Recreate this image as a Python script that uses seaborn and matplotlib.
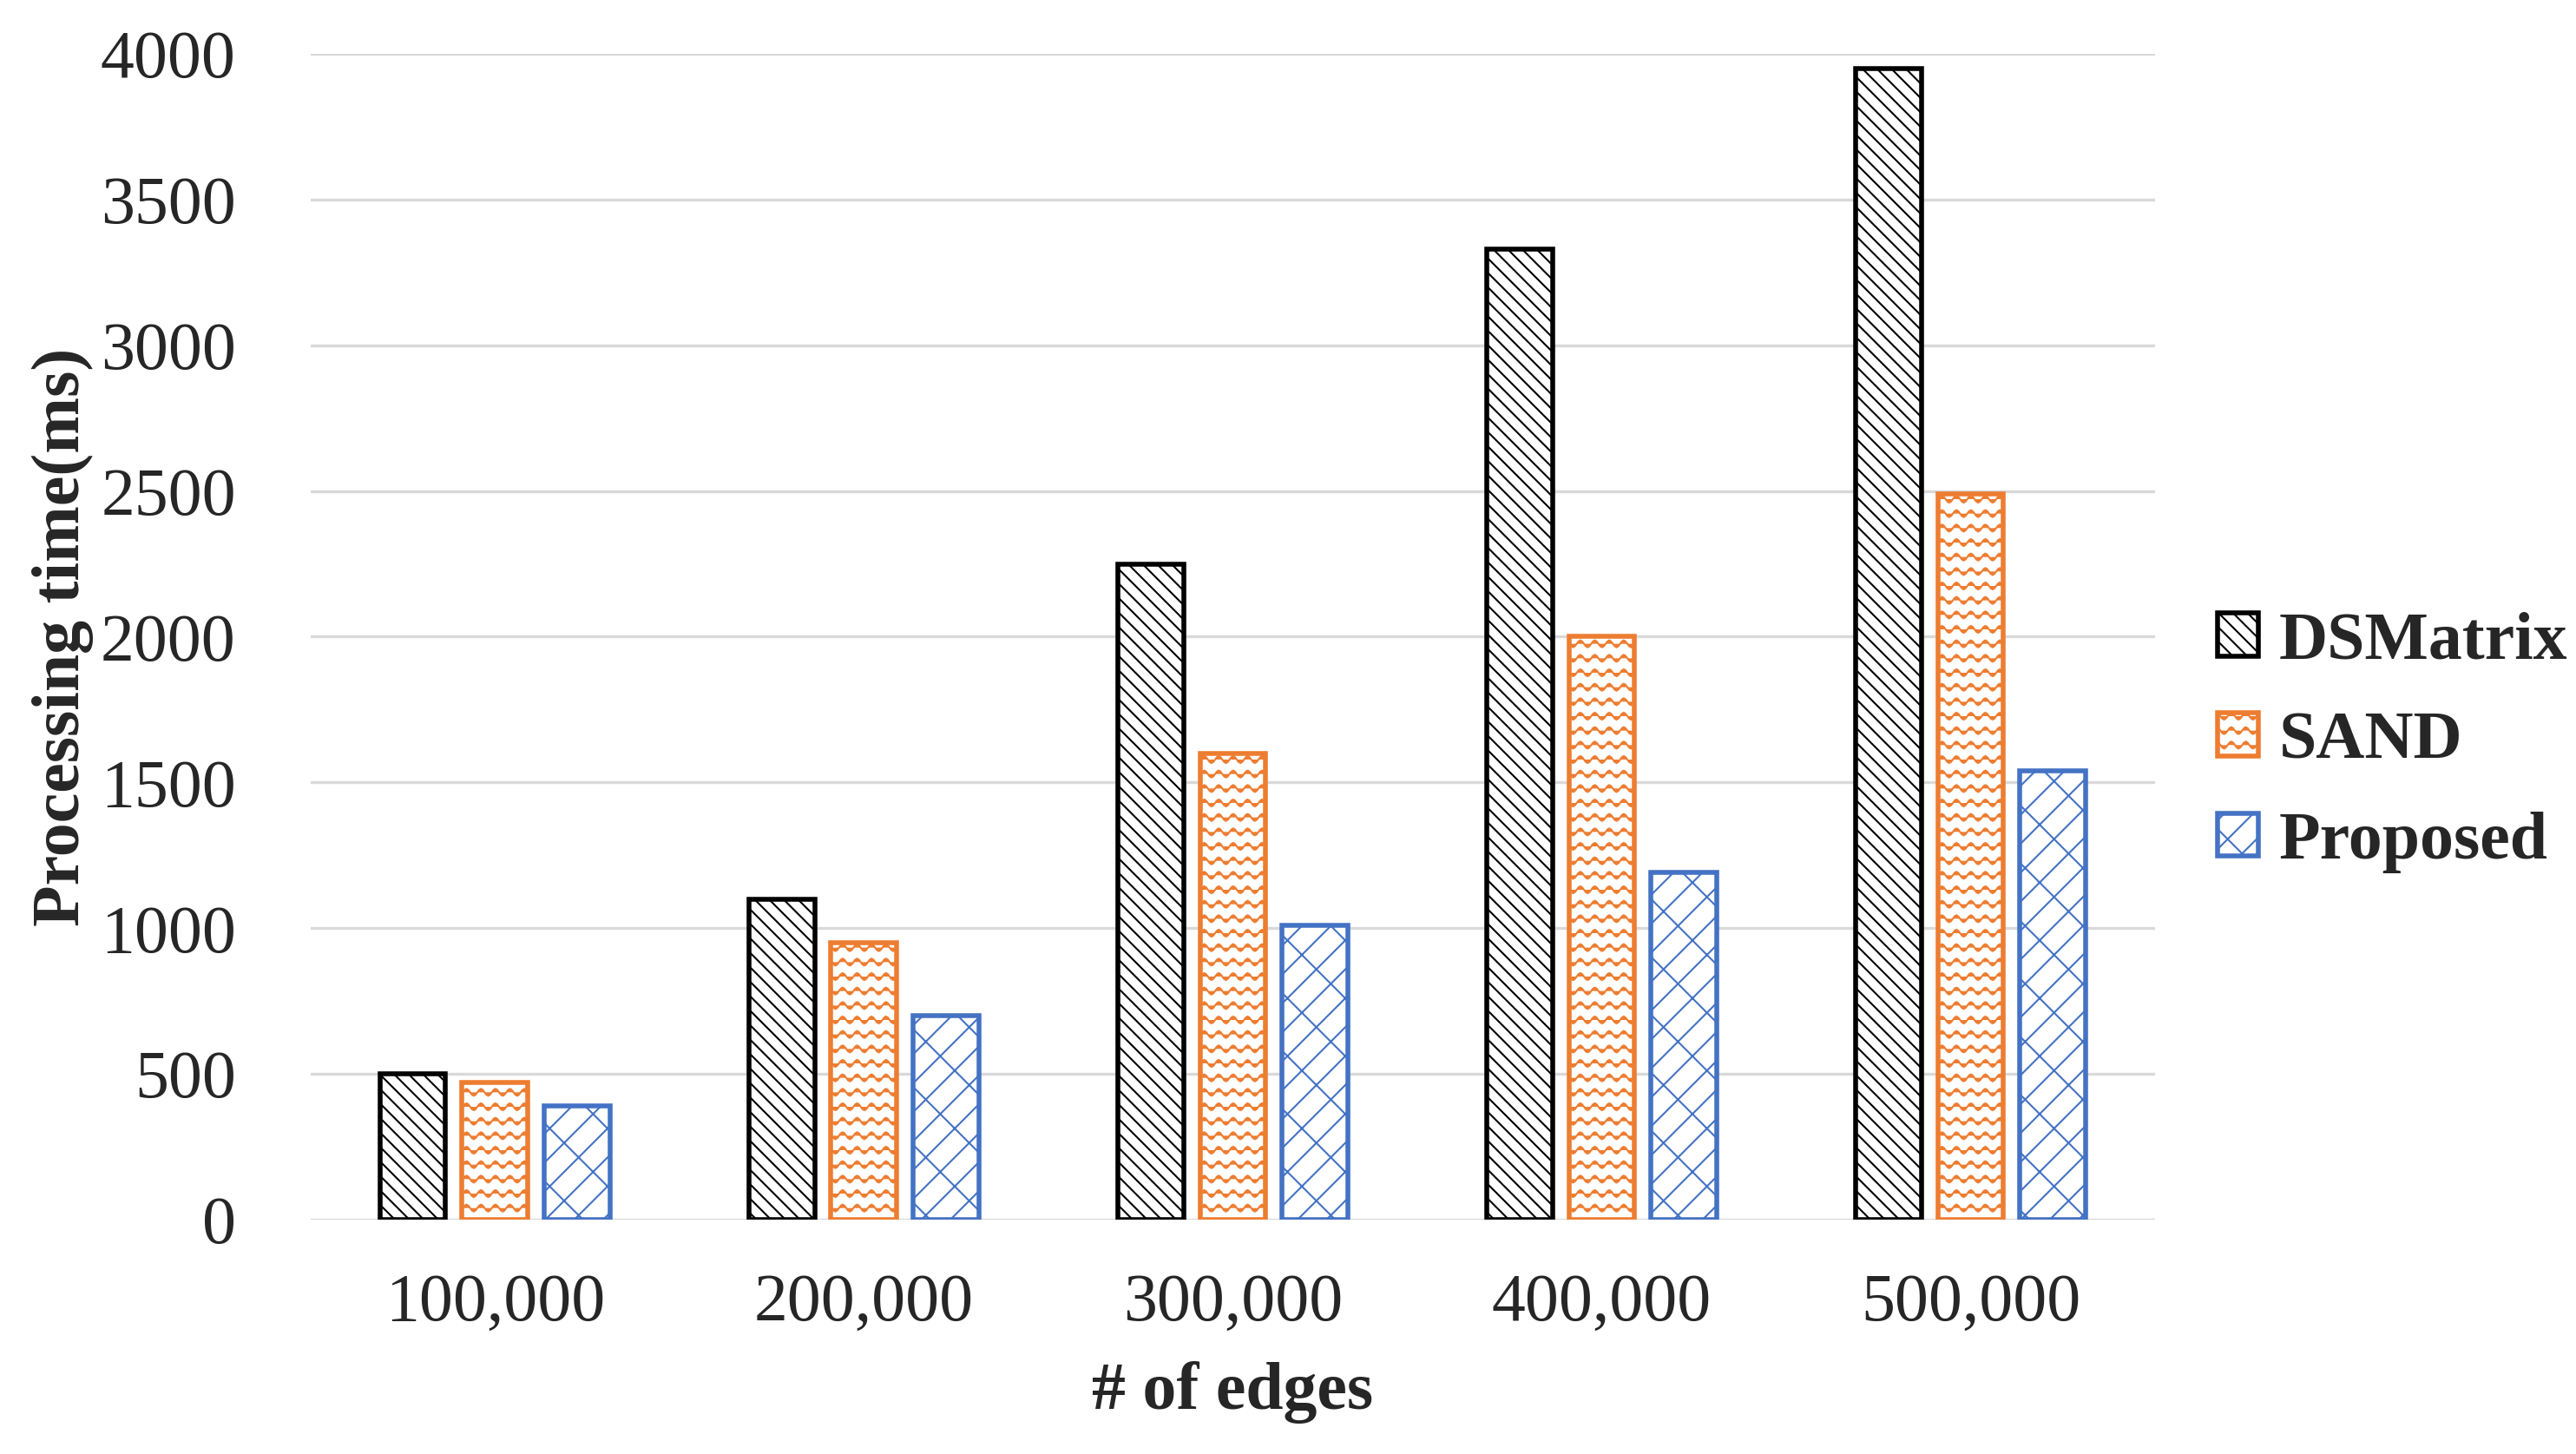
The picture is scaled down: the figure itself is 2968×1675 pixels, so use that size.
import warnings
import numpy as np
import pandas as pd
import matplotlib
matplotlib.use("Agg")
import matplotlib.pyplot as plt
import matplotlib.patches as mpatches
from matplotlib import hatch as mhatch
from matplotlib.path import Path
import seaborn as sns

warnings.filterwarnings("ignore")

# ------------------------------------------ données ------------------------------------------
edges = ["100,000", "200,000", "300,000", "400,000", "500,000"]
methods = ["DSMatrix", "SAND", "Proposed"]
dsmatrix = [500, 1100, 2250, 3330, 3950]
sand = [470, 950, 1600, 2000, 2490]
proposed = [390, 700, 1010, 1190, 1540]

colors = ["#000000", "#ED7D31", "#4472C4"]
hatches = ["\\\\\\\\", "~~", "//\\"]


# motif en vagues (pas dispo dans matplotlib), ajouté comme hachure '~'
class WaveHatch(mhatch.HatchPatternBase):
    def __init__(self, hatch, density):
        self.num_rows = int(hatch.count('~') * density)
        self.npts = 12 * 8 + 1
        self.num_vertices = self.num_rows * self.npts

    def set_vertices_and_codes(self, vertices, codes):
        xs = np.linspace(0.0, 1.0, self.npts)
        rows, step = np.linspace(0.0, 1.0, self.num_rows, False, retstep=True)
        rows += step / 2.
        for i, y0 in enumerate(rows):
            sl = slice(i * self.npts, (i + 1) * self.npts)
            vertices[sl, 0] = xs
            vertices[sl, 1] = y0 + 0.02 * np.sin(2 * np.pi * 12 * xs)
            codes[sl] = Path.LINETO
            codes[i * self.npts] = Path.MOVETO


mhatch._hatch_types.append(WaveHatch)

sns.set_theme(style="whitegrid")
plt.rcParams['font.family'] = ['Liberation Serif', 'DejaVu Serif']
plt.rcParams['hatch.linewidth'] = 0.75

df = pd.DataFrame({
    'edges': edges * 3,
    'method': [m for m in methods for _ in edges],
    'time': dsmatrix + sand + proposed,
})

fig = plt.figure(figsize=(14.84, 8.375), dpi=200)
ax = fig.add_axes([0.1206, 0.1612, 0.7160, 0.8018])

sns.barplot(data=df, x='edges', y='time', hue='method', hue_order=methods,
            palette=colors, width=0.67, gap=0.2, ax=ax, legend=False)

for cont, c, h in zip(ax.containers, colors, hatches):
    for p in cont.patches:
        p.set_facecolor('white')
        p.set_edgecolor(c)
        p.set_hatch(h)
        p.set_linewidth(2.0)

ax.set_ylim(0, 4000)
ax.set_xlim(-0.5, 4.5)
ax.set_yticks(range(0, 4001, 500))
ax.grid(axis='y', color='#D9D9D9', linewidth=1.2)
ax.grid(axis='x', visible=False)
ax.set_axisbelow(True)
for s in ax.spines.values():
    s.set_visible(False)

ax.tick_params(axis='y', length=0, pad=31, labelsize=28)
ax.tick_params(axis='x', length=0, pad=22, labelsize=28)

ax.set_xlabel('# of edges', fontsize=28, fontweight='bold', labelpad=11)
ax.set_ylabel('Processing time(ms)', fontsize=28, fontweight='bold', labelpad=3)

handles = [mpatches.Patch(facecolor='white', edgecolor=c, hatch=h, linewidth=2.0, label=m)
           for m, c, h in zip(methods, colors, hatches)]
fig.legend(handles=handles, loc='center left', bbox_to_anchor=(0.861, 0.4895),
           frameon=False, prop={'family': 'Liberation Serif', 'weight': 'bold', 'size': 28},
           handlelength=0.6, handleheight=0.6, handletextpad=0.3, labelspacing=0.57,
           borderaxespad=0, borderpad=0)

fig.savefig('out.png', dpi=200)
